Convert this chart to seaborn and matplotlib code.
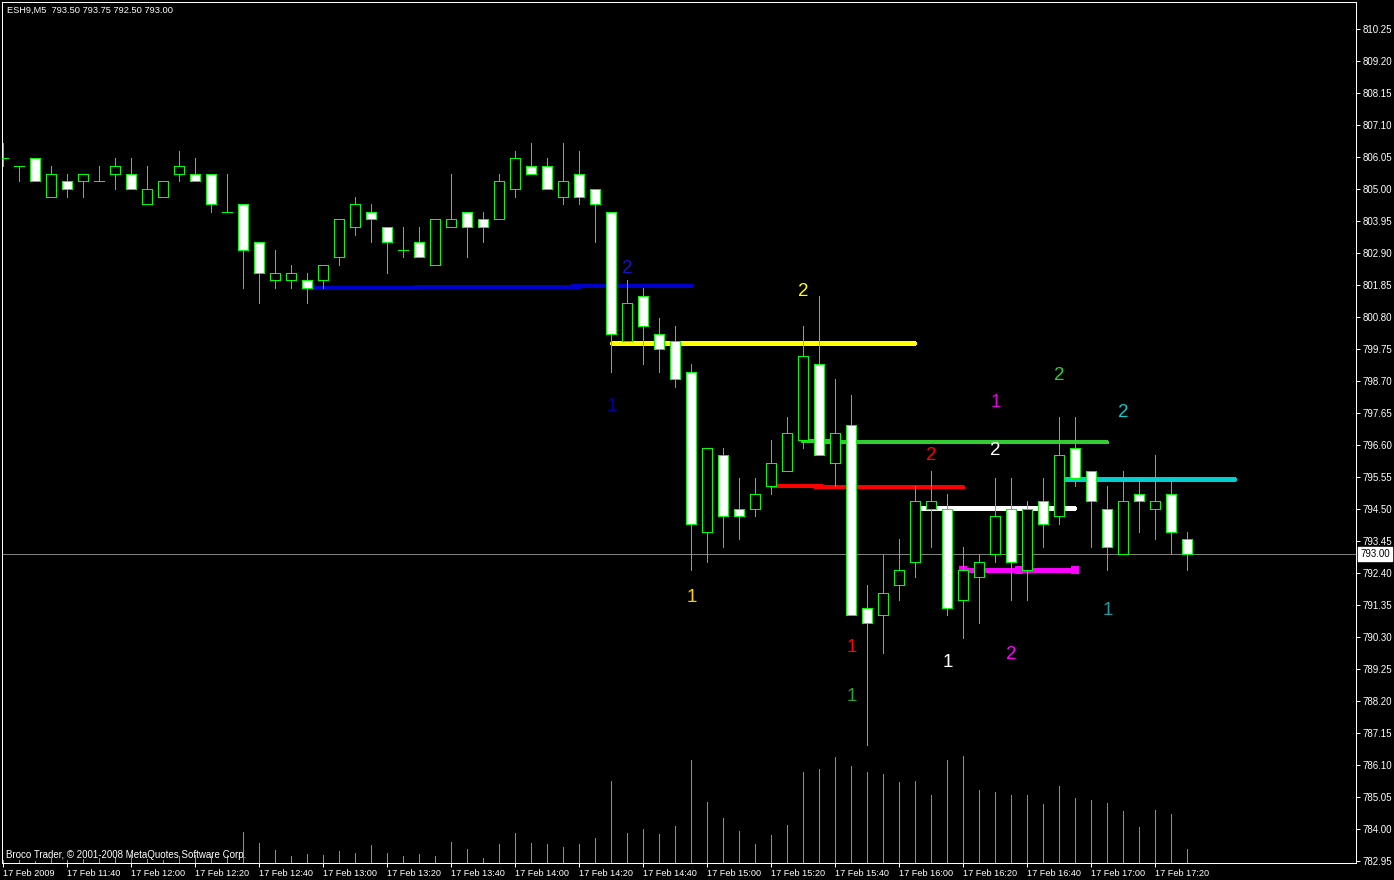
import matplotlib
matplotlib.use("Agg")
import matplotlib.pyplot as plt
import numpy as np
import pandas as pd
import seaborn as sns

# ---------------------------------------------------------------
# ESH9 M5 bars, 17 Feb 2009 11:20 .. 17:30
# ---------------------------------------------------------------
opens = [806.00, 805.75, 806.00, 804.75, 805.25, 805.25, 805.25, 805.50, 805.50, 804.50,
         804.75, 805.50, 805.50, 805.50, 804.25, 804.50, 803.25, 802.00, 802.00, 802.00,
         802.00, 802.75, 803.75, 804.25, 803.75, 803.00, 803.25, 802.50, 803.75, 804.25,
         804.00, 804.00, 805.00, 805.75, 805.75, 804.75, 805.50, 805.00, 804.25, 800.00,
         801.50, 800.25, 800.00, 799.00, 793.75, 796.25, 794.50, 794.50, 795.25, 795.75,
         796.75, 799.25, 796.00, 797.25, 791.25, 791.00, 792.00, 792.75, 794.50, 794.50,
         791.50, 792.25, 793.00, 794.50, 792.50, 794.75, 794.25, 796.50, 795.75, 794.50,
         793.00, 795.00, 794.50, 795.00, 793.50]
highs = [806.50, 805.75, 806.00, 805.75, 805.50, 805.50, 805.75, 806.00, 806.00, 805.75,
         805.25, 806.25, 806.00, 805.50, 805.50, 804.50, 803.25, 803.00, 802.50, 802.25,
         802.50, 804.00, 804.75, 804.50, 803.75, 803.75, 803.75, 804.00, 805.50, 804.25,
         804.25, 805.50, 806.25, 806.50, 806.00, 806.50, 806.25, 805.00, 804.25, 802.00,
         801.75, 800.75, 800.50, 799.25, 796.50, 796.50, 795.50, 795.50, 796.75, 797.50,
         800.50, 801.50, 798.75, 798.25, 792.00, 793.00, 793.50, 795.25, 795.75, 795.00,
         793.25, 793.00, 795.50, 795.50, 794.75, 795.50, 797.50, 797.50, 795.75, 795.25,
         795.75, 795.50, 796.25, 795.50, 793.75]
lows = [805.75, 805.25, 805.25, 804.75, 804.75, 804.75, 805.25, 805.00, 805.00, 804.50,
        804.75, 805.25, 805.25, 804.25, 804.25, 801.75, 801.25, 801.75, 801.75, 801.25,
        801.75, 802.50, 803.50, 803.25, 802.25, 802.75, 802.75, 802.50, 803.75, 802.75,
        803.25, 804.00, 804.75, 805.50, 805.00, 804.50, 804.50, 803.25, 799.00, 800.00,
        799.25, 799.00, 798.50, 792.50, 792.75, 793.25, 793.50, 794.25, 795.00, 795.75,
        796.50, 796.25, 795.25, 791.00, 786.75, 789.75, 791.50, 792.25, 793.25, 791.00,
        790.25, 790.75, 792.75, 791.50, 791.50, 793.25, 794.00, 795.25, 793.25, 792.50,
        793.00, 793.75, 793.50, 793.00, 792.50]
closes = [806.00, 805.75, 805.25, 805.50, 805.00, 805.50, 805.25, 805.75, 805.00, 805.00,
          805.25, 805.75, 805.25, 804.50, 804.25, 803.00, 802.25, 802.25, 802.25, 801.75,
          802.50, 804.00, 804.50, 804.00, 803.25, 803.00, 802.75, 804.00, 804.00, 803.75,
          803.75, 805.25, 806.00, 805.50, 805.00, 805.25, 804.75, 804.50, 800.25, 801.25,
          800.50, 799.75, 798.75, 794.00, 796.50, 794.25, 794.25, 795.00, 796.00, 797.00,
          799.50, 796.25, 797.00, 791.00, 790.75, 791.75, 792.50, 794.75, 794.75, 791.25,
          792.50, 792.75, 794.25, 792.75, 794.50, 794.00, 796.25, 795.50, 794.75, 793.25,
          794.75, 794.75, 794.75, 793.75, 793.00]
volumes = [3, 3, 2, 5, 3, 4, 5, 5, 8, 4, 3, 7, 8, 7, 8, 31, 20, 13, 7, 9,
           8, 12, 10, 18, 10, 7, 9, 7, 21, 14, 5, 19, 30, 20, 19, 16, 19, 25, 82, 30,
           34, 29, 37, 103, 61, 45, 32, 19, 28, 38, 91, 94, 106, 97, 91, 89, 81, 82, 68, 103,
           107, 73, 71, 68, 68, 59, 77, 65, 63, 60, 52, 36, 53, 49, 14]

time_labels = ["17 Feb 2009", "17 Feb 11:40", "17 Feb 12:00", "17 Feb 12:20", "17 Feb 12:40",
               "17 Feb 13:00", "17 Feb 13:20", "17 Feb 13:40", "17 Feb 14:00", "17 Feb 14:20",
               "17 Feb 14:40", "17 Feb 15:00", "17 Feb 15:20", "17 Feb 15:40", "17 Feb 16:00",
               "17 Feb 16:20", "17 Feb 16:40", "17 Feb 17:00", "17 Feb 17:20"]
price_ticks = [810.25, 809.20, 808.15, 807.10, 806.05, 805.00, 803.95, 802.90, 801.85,
               800.80, 799.75, 798.70, 797.65, 796.60, 795.55, 794.50, 793.45, 792.40,
               791.35, 790.30, 789.25, 788.20, 787.15, 786.10, 785.05, 784.00, 782.95]

# trend lines drawn on the chart (start bar, end bar, prices)
level_colors = ["#0000CD", "#FFFF00", "#32CD32", "#FF0000", "#FFFFFF", "#00CED1", "#FF00FF"]
level_start = [19, 38, 50, 48, 57, 66, 60]
level_end = [43, 57, 69, 60, 67, 77, 67]
level_p1 = [801.74, 799.93, 796.71, 795.24, 794.51, 795.48, 792.48]
level_p2 = [801.82, 799.93, 796.68, 795.20, 794.51, 795.48, 792.48]

# "1" / "2" markers
mark_text = ["2", "1", "2", "1", "2", "1", "2", "1", "2", "1", "2", "1", "1", "2"]
mark_bar = [39, 38, 50, 43, 66, 53, 58, 53, 62, 59, 70, 69, 62, 63]
mark_price = [802.45, 797.91, 801.70, 791.64, 798.95, 788.39, 796.32, 790.00,
              796.48, 789.53, 797.72, 791.23, 798.05, 789.77]
mark_color = ["#1414C8", "#00009E", "#FFFF00", "#FFD000", "#32CD32", "#2DA02D", "#FF0000", "#FF0000",
              "#FFFFFF", "#FFFFFF", "#00CED1", "#1E9AA0", "#E000E0", "#FF00FF"]

# ---------------------------------------------------------------
df = pd.DataFrame({"open": opens, "high": highs, "low": lows, "close": closes, "vol": volumes})
df["bar"] = np.arange(len(df))
df["bottom"] = df[["open", "close"]].min(axis=1)
df["body"] = (df["close"] - df["open"]).abs()
df["fill"] = np.where(df["close"] < df["open"], "white", "black")

sns.set_theme(style="ticks", rc={"axes.facecolor": "black", "figure.facecolor": "black",
                                 "axes.edgecolor": "white", "xtick.color": "white",
                                 "ytick.color": "white", "text.color": "white",
                                 "axes.grid": False})
plt.rcParams["font.family"] = ["Liberation Sans", "DejaVu Sans"]

W, H = 1394, 880
fig = plt.figure(figsize=(W / 100, H / 100), dpi=100)
ax = fig.add_axes([2 / W, 17 / H, 1354 / W, 861 / H])

# volumes (pixel-height scale)
vax = ax.twinx()
vax.vlines(df["bar"], 0, df["vol"], color="#32CD32", lw=0.72, antialiased=False)
vax.set_ylim(0, 861)
vax.set_yticks([])
for s in vax.spines.values():
    s.set_visible(False)

# current price line
ax.axhline(closes[-1], color="#808080", lw=0.72, zorder=1)

# trend lines
for c, s, e, p1, p2 in zip(level_colors, level_start, level_end, level_p1, level_p2):
    sns.lineplot(x=[s, e], y=[p1, p2], color=c, lw=2.2, ax=ax, zorder=2,
                 antialiased=False, legend=False)
# handles of the selected (magenta) line
ms, me = level_start[-1], level_end[-1]
ax.scatter([ms, (ms + me) / 2, me], [level_p1[-1]] * 3, marker="s", s=26,
           color="#FF00FF", zorder=2.5, linewidths=0)

# candles
ax.vlines(df["bar"], df["low"], df["high"], color="#00FF00", lw=0.72, zorder=3, antialiased=False)
ax.bar(df["bar"], df["body"], bottom=df["bottom"], width=0.62, color=df["fill"],
       edgecolor="#00FF00", linewidth=0.72, zorder=4, antialiased=False)

for t, b, p, c in zip(mark_text, mark_bar, mark_price, mark_color):
    ax.annotate(t, xy=(b, p), xytext=(0, -2), textcoords="offset pixels", color=c,
                fontsize=13.5, ha="center", va="center", zorder=5)

ax.set_xlim(-0.081, 84.54)
ax.set_ylim(782.87, 811.136)

ax.yaxis.tick_right()
ax.set_yticks(price_ticks)
ax.set_yticklabels([f"{v:.2f}" for v in price_ticks])
ax.tick_params(axis="y", length=3, width=0.72, pad=2, labelsize=7, colors="white")
xt = df["bar"].values[::4][:len(time_labels)]
ax.set_xticks(xt)
ax.set_xticklabels(time_labels, ha="left")
ax.tick_params(axis="x", length=3, width=0.72, pad=1.5, labelsize=6.6, colors="white")
for s in ax.spines.values():
    s.set_color("white")
    s.set_linewidth(0.72)
ax.set_xlabel("")
ax.set_ylabel("")

# price tag on the axis
ax.annotate(f"{closes[-1]:.2f}", xy=(1, closes[-1]), xycoords=("axes fraction", "data"),
            xytext=(4, 0), textcoords="offset pixels", ha="left", va="center",
            color="black", fontsize=7,
            bbox=dict(boxstyle="square,pad=0.2", fc="white", ec="white"), zorder=6)

fig.text(7 / W, 1 - 10 / H,
         f"ESH9,M5  {opens[-1]:.2f} {highs[-1]:.2f} {lows[-1]:.2f} {closes[-1]:.2f}",
         color="white", fontsize=6.7, va="center", ha="left")
fig.text(6 / W, 1 - 855 / H, "Broco Trader, \u00a9 2001-2008 MetaQuotes Software Corp.",
         color="white", fontsize=7, va="center", ha="left")

fig.savefig("out.png", dpi=100, facecolor="black")
